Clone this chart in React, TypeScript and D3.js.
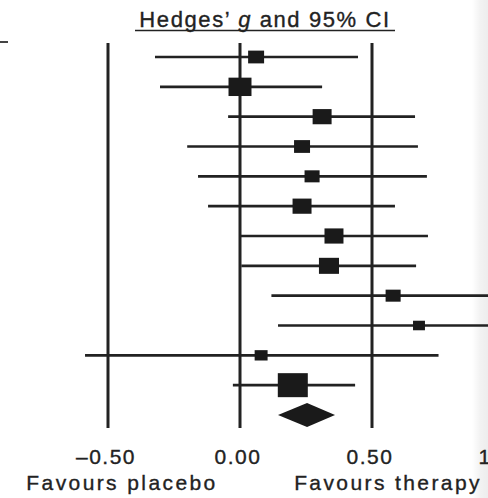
import React from "react";
import * as d3 from "d3";

const studies = ["S1", "S2", "S3", "S4", "S5", "S6", "S7", "S8", "S9", "S10", "S11", "S12"];
const estimates = [0.061, 0.0, 0.311, 0.235, 0.273, 0.235, 0.356, 0.337, 0.58, 0.678, 0.08, 0.2];
const lower = [-0.322, -0.303, -0.045, -0.2, -0.159, -0.121, 0.0, 0.005, 0.119, 0.144, -0.587, -0.027];
const upper = [0.447, 0.311, 0.663, 0.674, 0.708, 0.587, 0.712, 0.667, 1.1, 1.25, 0.752, 0.436];
const weights = [6.1, 12.6, 8.6, 6.1, 5.4, 8.6, 8.6, 9.6, 5.4, 3.4, 4.0, 21.5];
const pooled = { est: 0.254, lo: 0.144, hi: 0.36 };
const refLines = [-0.5, 0, 0.5];
const tickValues = [-0.5, 0, 0.5, 1.0];
const tickLabels = ["\u20130.50", "0.00", "0.50", "1.00"];
const titleBefore = "Hedges\u2019 ";
const titleItalic = "g";
const titleAfter = " and 95% CI";
const leftLabel = "Favours placebo";
const rightLabel = "Favours therapy";

const W = 488;
const H = 498;
const INK = "#222";
const FONT = "'Liberation Sans', Arial, Helvetica, sans-serif";

export default function App() {
  const x = d3.scaleLinear().domain([-0.5, 0.5]).range([108, 372]);
  const rows = [...studies, "pooled"];
  const y = d3.scalePoint<string>().domain(rows).range([57, 415]);
  const size = d3.scaleSqrt().domain([0, 21.5]).range([0, 30]);

  const textStroke = { stroke: INK, strokeWidth: 0.35 };

  return (
    <svg
      width={W}
      height={H}
      style={{ position: "absolute", left: 0, top: 0, background: "#fff" }}
      fontFamily={FONT}
    >
      <defs>
        <linearGradient id="edge" x1="0" x2="1" y1="0" y2="0">
          <stop offset="0" stopColor="#000" stopOpacity={0} />
          <stop offset="0.5" stopColor="#000" stopOpacity={0.05} />
          <stop offset="1" stopColor="#000" stopOpacity={0.07} />
        </linearGradient>
      </defs>
      <rect x={0} y={0} width={W} height={H} fill="#fff" />
      <rect x={472} y={0} width={16} height={H} fill="url(#edge)" />

      {/* stray dash top-left */}
      <line x1={0} x2={8} y1={42} y2={42} stroke="#444" strokeWidth={2} />

      {/* title */}
      <text
        x={265}
        y={27}
        textAnchor="middle"
        fontSize={22}
        fill={INK}
        letterSpacing={1.6}
        {...textStroke}
      >
        {titleBefore}
        <tspan fontStyle="italic">{titleItalic}</tspan>
        {titleAfter}
      </text>
      <line x1={135} x2={395} y1={30.5} y2={30.5} stroke={INK} strokeWidth={1.5} />

      {/* reference lines */}
      {refLines.map((v) => (
        <line key={v} x1={x(v)} x2={x(v)} y1={43} y2={428} stroke={INK} strokeWidth={3} />
      ))}

      {/* study rows */}
      {studies.map((s, i) => {
        const w = size(weights[i]);
        const h = w * 0.8;
        const cy = y(s) as number;
        return (
          <g key={s}>
            <line x1={x(lower[i])} x2={x(upper[i])} y1={cy} y2={cy} stroke={INK} strokeWidth={2.6} />
            <rect x={x(estimates[i]) - w / 2} y={cy - h / 2} width={w} height={h} fill="#1a1a1a" />
          </g>
        );
      })}

      {/* pooled diamond */}
      {(() => {
        const cy = y("pooled") as number;
        const hh = 12;
        const pts = [
          [x(pooled.lo), cy],
          [x(pooled.est), cy - hh],
          [x(pooled.hi), cy],
          [x(pooled.est), cy + hh],
        ];
        return <polygon points={pts.map((p) => p.join(",")).join(" ")} fill="#1a1a1a" />;
      })()}

      {/* tick labels */}
      {tickValues.map((v, i) => (
        <text
          key={v}
          x={x(v) - 2}
          y={464}
          textAnchor="middle"
          fontSize={21}
          fill={INK}
          letterSpacing={1.5}
          {...textStroke}
        >
          {tickLabels[i]}
        </text>
      ))}

      <text x={122} y={490} textAnchor="middle" fontSize={21} fill={INK} letterSpacing={2.4} {...textStroke}>
        {leftLabel}
      </text>
      <text x={388} y={490} textAnchor="middle" fontSize={21} fill={INK} letterSpacing={2.4} {...textStroke}>
        {rightLabel}
      </text>
    </svg>
  );
}
